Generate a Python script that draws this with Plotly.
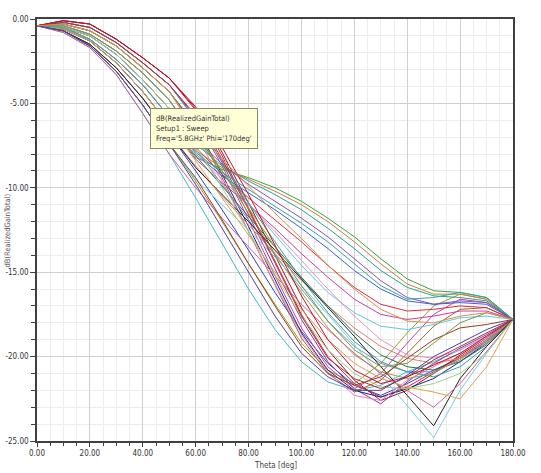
import plotly.graph_objects as go

THETA = [0, 10, 20, 30, 40, 50, 60, 70, 80, 90, 100, 110, 120, 130, 140, 150, 160, 170, 180]

X_TICKS = [0, 20, 40, 60, 80, 100, 120, 140, 160, 180]
X_TICK_LABELS = ["0.00", "20.00", "40.00", "60.00", "80.00", "100.00", "120.00", "140.00", "160.00", "180.00"]
Y_TICKS = [0, -5, -10, -15, -20, -25]
Y_TICK_LABELS = ["0.00", "-5.00", "-10.00", "-15.00", "-20.00", "-25.00"]

# dB(RealizedGainTotal) per Phi cut
A1 = [-0.4, -0.8, -1.7, -3.3, -5.6, -8.0, -10.6, -13.3, -16.0, -18.4, -20.3, -21.5, -22.0, -21.7, -20.9, -20.3, -19.6, -18.8, -17.8]
A2 = [-0.4, -0.7, -1.6, -3.1, -5.1, -7.4, -9.6, -12.0, -14.5, -16.9, -19.2, -20.8, -21.6, -20.4, -18.6, -17.0, -16.3, -16.6, -17.8]
A3 = [-0.4, -0.7, -1.5, -2.9, -4.7, -6.8, -9.0, -11.3, -13.7, -16.2, -18.5, -20.4, -21.7, -22.3, -21.6, -20.8, -20.1, -19.1, -17.8]
A4 = [-0.4, -0.1, -0.3, -1.2, -2.3, -3.5, -5.4, -8.1, -11.2, -14.4, -17.5, -20.0, -21.6, -22.4, -21.8, -20.9, -20.0, -19.0, -17.8]
A5 = [-0.4, -0.1, -0.3, -1.2, -2.3, -3.5, -5.3, -7.9, -10.9, -14.0, -17.1, -19.6, -21.4, -22.6, -22.0, -21.0, -19.9, -18.9, -17.8]
A6 = [-0.4, -0.2, -0.5, -1.4, -2.6, -3.9, -5.8, -8.5, -11.6, -14.8, -17.8, -20.3, -21.9, -22.8, -21.5, -20.4, -19.5, -18.7, -17.8]
A7 = [-0.4, -0.2, -0.5, -1.4, -2.6, -3.9, -5.9, -8.7, -11.9, -15.2, -18.3, -20.6, -21.9, -21.0, -19.2, -17.5, -16.6, -16.8, -17.8]
A8 = [-0.4, -0.3, -0.7, -1.6, -2.9, -4.3, -6.3, -9.2, -12.3, -15.5, -18.6, -20.8, -22.0, -22.4, -21.9, -21.3, -20.3, -19.2, -17.8]
A9 = [-0.4, -0.3, -0.7, -1.6, -2.9, -4.3, -6.4, -9.4, -12.6, -15.8, -18.9, -21.0, -22.1, -21.4, -19.8, -18.2, -17.2, -17.1, -17.8]
A10 = [-0.4, -0.4, -0.9, -1.9, -3.2, -4.8, -6.9, -9.6, -12.6, -15.7, -18.7, -20.9, -22.3, -22.6, -21.4, -20.6, -19.8, -18.9, -17.8]
B1 = [-0.4, -0.6, -1.3, -2.6, -4.3, -6.3, -8.2, -8.9, -9.4, -10.0, -10.8, -11.8, -12.9, -14.2, -15.4, -16.1, -16.2, -16.5, -17.8]
B2 = [-0.4, -0.5, -1.2, -2.4, -3.9, -5.8, -7.8, -8.8, -9.5, -10.2, -11.0, -12.0, -13.2, -14.5, -15.7, -16.3, -16.3, -16.6, -17.8]
B3 = [-0.4, -0.5, -1.0, -2.1, -3.6, -5.3, -7.4, -8.7, -9.6, -10.4, -11.3, -12.4, -13.6, -14.9, -15.9, -16.4, -16.5, -16.7, -17.8]
B4 = [-0.4, -0.4, -0.9, -1.9, -3.2, -4.8, -7.1, -8.6, -9.8, -10.8, -11.8, -12.9, -14.2, -15.5, -16.5, -16.9, -16.7, -16.8, -17.8]
B5 = [-0.4, -0.5, -1.2, -2.4, -3.9, -5.8, -8.0, -9.3, -10.3, -11.3, -12.4, -13.6, -14.9, -16.0, -16.7, -16.9, -16.8, -16.9, -17.8]
B6 = [-0.4, -0.5, -1.0, -2.1, -3.6, -5.3, -7.6, -9.2, -10.6, -11.9, -13.2, -14.6, -15.9, -16.9, -17.3, -17.2, -17.0, -17.1, -17.8]
B7 = [-0.4, -0.6, -1.3, -2.6, -4.3, -6.3, -8.3, -9.7, -11.0, -12.4, -13.9, -15.3, -16.6, -17.5, -17.8, -17.6, -17.3, -17.3, -17.8]
B8 = [-0.4, -0.4, -0.9, -1.9, -3.2, -4.8, -7.0, -9.0, -10.9, -12.8, -14.6, -16.2, -17.4, -18.2, -18.4, -18.1, -17.7, -17.6, -17.8]
C1 = [-0.4, -0.7, -1.5, -2.9, -4.7, -6.8, -8.7, -10.5, -12.2, -13.9, -15.5, -17.0, -18.3, -19.4, -20.1, -20.4, -20.1, -19.2, -17.8]
C2 = [-0.4, -0.6, -1.3, -2.6, -4.3, -6.3, -8.1, -9.9, -11.7, -13.5, -15.3, -17.0, -18.6, -19.9, -20.6, -20.8, -20.3, -19.3, -17.8]
C3 = [-0.4, -0.5, -1.0, -2.1, -3.6, -5.3, -7.7, -9.8, -11.9, -14.0, -16.0, -17.9, -19.4, -20.4, -20.9, -20.9, -20.2, -19.1, -17.8]
C4 = [-0.4, -0.3, -0.7, -1.6, -2.9, -4.3, -6.7, -9.0, -11.5, -13.9, -16.2, -18.3, -19.9, -20.9, -21.3, -21.0, -20.1, -19.0, -17.8]
C5 = [-0.4, -0.5, -1.2, -2.4, -3.9, -5.8, -8.0, -9.5, -11.0, -12.6, -14.3, -16.0, -17.6, -19.0, -19.9, -20.1, -19.6, -18.8, -17.8]
C6 = [-0.4, -0.2, -0.5, -1.4, -2.6, -3.9, -6.0, -8.4, -10.9, -13.2, -15.4, -17.4, -19.1, -20.3, -20.9, -21.2, -20.6, -19.4, -17.8]
D1 = [-0.4, -0.7, -1.6, -3.1, -5.1, -7.4, -9.5, -11.0, -12.5, -14.1, -15.8, -17.5, -19.3, -21.1, -22.9, -24.8, -22.0, -19.8, -17.8]
D2 = [-0.4, -0.7, -1.5, -2.9, -4.7, -6.8, -8.8, -10.4, -12.0, -13.7, -15.4, -17.1, -18.8, -20.6, -22.3, -24.1, -21.3, -19.4, -17.8]
D3 = [-0.4, -0.8, -1.7, -3.3, -5.6, -8.0, -10.0, -11.8, -13.5, -15.2, -16.9, -18.4, -19.8, -21.0, -22.0, -23.0, -21.6, -19.7, -17.8]
E1 = [-0.4, -0.6, -1.3, -2.6, -4.3, -6.3, -8.4, -10.6, -12.8, -15.0, -17.2, -19.0, -20.4, -21.3, -21.8, -22.1, -22.5, -20.6, -17.8]
E2 = [-0.4, -0.5, -1.0, -2.1, -3.6, -5.3, -7.5, -10.0, -12.6, -15.2, -17.6, -19.6, -21.0, -21.8, -21.9, -21.6, -21.0, -19.8, -17.8]
E3 = [-0.4, -0.7, -1.6, -3.1, -5.1, -7.4, -9.4, -11.9, -14.5, -17.0, -19.4, -21.0, -21.7, -21.2, -20.1, -19.0, -18.3, -18.1, -17.8]
F1 = [-0.4, -0.2, -0.5, -1.4, -2.6, -3.9, -5.7, -8.3, -11.3, -14.5, -17.6, -20.1, -21.3, -21.9, -21.2, -20.2, -19.4, -18.6, -17.8]
F2 = [-0.4, -0.4, -0.9, -1.9, -3.2, -4.8, -7.0, -9.0, -11.2, -13.5, -15.8, -17.9, -19.6, -20.6, -20.4, -19.2, -18.0, -17.4, -17.8]
F3 = [-0.4, -0.5, -1.2, -2.4, -3.9, -5.8, -7.9, -9.1, -10.1, -11.1, -12.1, -13.2, -14.5, -15.8, -16.6, -16.5, -16.2, -16.5, -17.8]
F4 = [-0.4, -0.1, -0.3, -1.2, -2.3, -3.5, -5.2, -7.6, -10.4, -13.4, -16.4, -19.0, -20.8, -21.6, -21.2, -20.5, -19.8, -18.8, -17.8]
F5 = [-0.4, -0.7, -1.6, -3.1, -5.1, -7.4, -9.8, -12.4, -15.0, -17.6, -19.8, -21.2, -22.0, -22.0, -21.1, -20.0, -19.2, -18.4, -17.8]
F6 = [-0.4, -0.3, -0.7, -1.6, -2.9, -4.3, -6.5, -8.3, -9.9, -11.5, -13.0, -14.6, -16.0, -17.2, -17.9, -18.0, -17.6, -17.4, -17.8]

CURVES = [A1, A2, A3, A4, A5, A6, A7, A8, A9, A10,
          B1, B2, B3, B4, B5, B6, B7, B8,
          C1, C2, C3, C4, C5, C6, D1, D2, D3, E1, E2, E3,
          F1, F2, F3, F4, F5, F6]
PHI = [f"Phi='{p}deg'" for p in range(0, 360, 10)]
COLORS = ["#3fb8c8", "#9a9a30", "#2f3fbf", "#e0202f", "#a01020", "#7f3f9f", "#cf3f9f", "#1f1f8f", "#a0602f", "#e87fbf",
          "#3f9f3f", "#c08040", "#2f9f8f", "#8f4faf", "#3f5fcf", "#d83040", "#c83f9f", "#5fc8d8",
          "#e08070", "#2f6f4f", "#7f8fbf", "#a0a040", "#e890c0", "#40a0a0", "#70d0e0", "#202020", "#d060a0",
          "#e0a050", "#9fcf7f", "#904020",
          "#b03040", "#7a9a3a", "#30a8a0", "#c0102f", "#5040a0", "#d89050"]

fig = go.Figure()
for name, ys, col in zip(PHI, CURVES, COLORS):
    fig.add_trace(go.Scatter(x=THETA, y=ys, mode="lines", name=name,
                             line=dict(color=col, width=1)))

FONT = "Liberation Sans Narrow, DejaVu Sans Condensed, Arial Narrow, Liberation Sans, Arial"

fig.add_annotation(
    x=42.7, y=-5.3, xref="x", yref="y", xanchor="left", yanchor="top",
    text="dB(RealizedGainTotal)<br>Setup1 : Sweep<br>Freq='5.8GHz' Phi='170deg'",
    showarrow=False, align="left",
    font=dict(family=FONT, size=7.5, color="#333333"),
    bgcolor="#ffffd8", bordercolor="#8a8a60", borderwidth=1, borderpad=5,
)
fig.add_annotation(
    x=-0.062, y=0.5, xref="paper", yref="paper", xanchor="center", yanchor="middle",
    text="dB(RealizedGainTotal)", textangle=-90, showarrow=False,
    font=dict(family=FONT, size=7.5, color="#555555"),
)
fig.add_annotation(
    x=0.5, y=-0.057, xref="paper", yref="paper", xanchor="center", yanchor="middle",
    text="Theta [deg]", showarrow=False,
    font=dict(family=FONT, size=8, color="#444444"),
)

fig.update_layout(
    width=541, height=473,
    margin=dict(l=37, r=28, t=18.5, b=32),
    paper_bgcolor="white", plot_bgcolor="white",
    showlegend=False,
    font=dict(family=FONT, color="#444444"),
)
fig.update_xaxes(
    range=[0, 180], tickvals=X_TICKS, ticktext=X_TICK_LABELS, automargin=False,
    tickfont=dict(family=FONT, size=8, color="#333333"),
    showline=True, linecolor="#404040", linewidth=1.5, mirror=True,
    ticks="outside", ticklen=4, tickcolor="#404040",
    showgrid=True, gridcolor="#d0d0d0", gridwidth=1,
    minor=dict(dtick=5, tick0=0, ticks="outside", ticklen=3, tickcolor="#404040",
               showgrid=True, gridcolor="#ececec"),
    zeroline=False,
)
fig.update_yaxes(
    range=[-25, 0], tickvals=Y_TICKS, ticktext=Y_TICK_LABELS, automargin=False,
    tickfont=dict(family=FONT, size=8, color="#333333"),
    showline=True, linecolor="#404040", linewidth=1.5, mirror=True,
    ticks="outside", ticklen=5, tickcolor="#404040",
    showgrid=True, gridcolor="#d0d0d0", gridwidth=1,
    minor=dict(dtick=1, tick0=0, ticks="outside", ticklen=4, tickcolor="#404040",
               showgrid=True, gridcolor="#ececec"),
    zeroline=False,
)

# remove the default 8px page margin so the figure fills the window exactly
fig.write_html("out.html", config={"displayModeBar": False},
               post_script="document.body.style.margin='0';")
